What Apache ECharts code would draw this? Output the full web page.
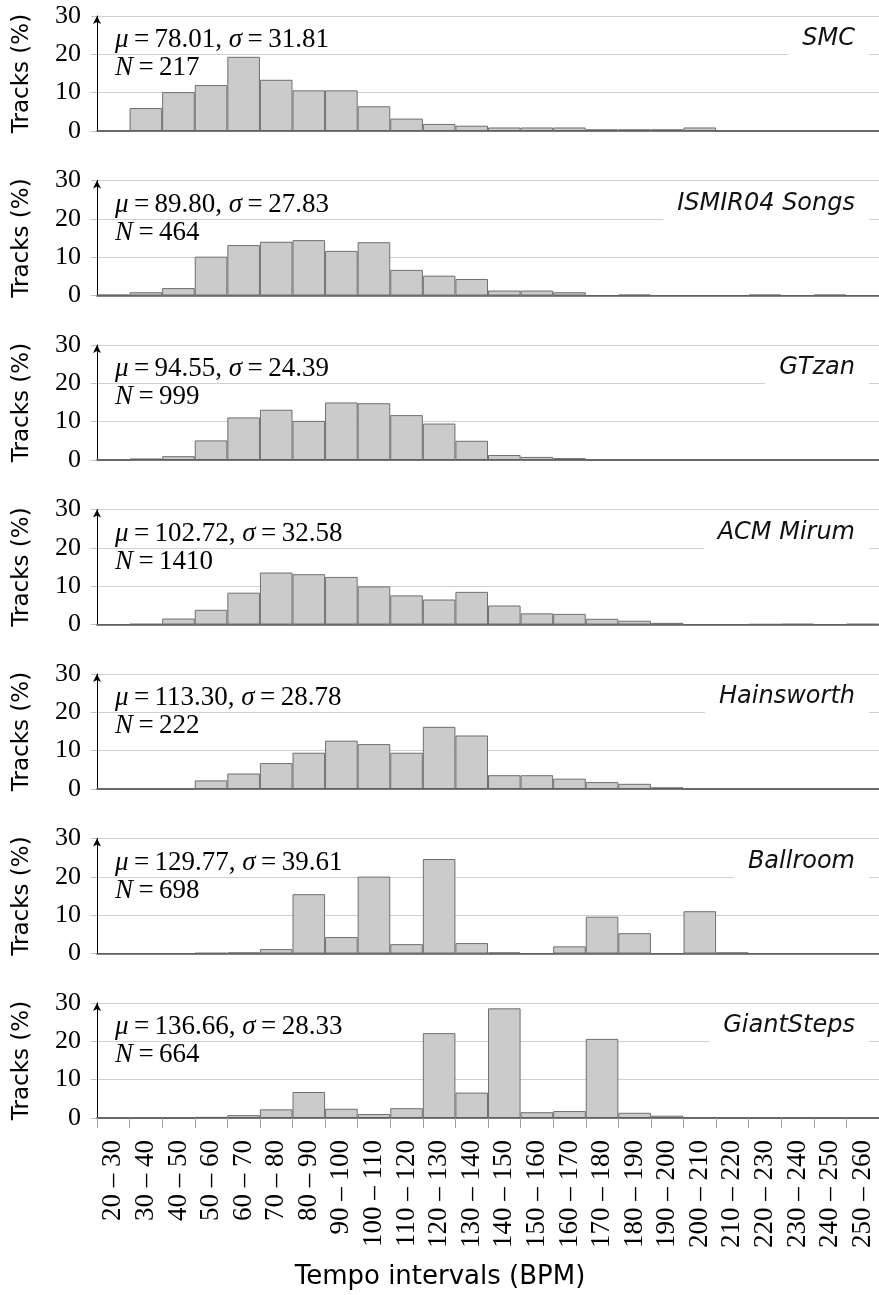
<!DOCTYPE html>
<html>
<head>
<meta charset="utf-8">
<script src="https://cdn.jsdelivr.net/npm/echarts@6/dist/echarts.min.js"></script>
<style>
  html, body { margin: 0; padding: 0; background: #ffffff; }
  #chart { width: 879px; height: 1295px; }
</style>
</head>
<body>
<div id="chart"></div>
<script>
// Tempo bins (BPM), one label per 10-BPM interval
const binLabels = [
  '20 – 30', '30 – 40', '40 – 50', '50 – 60', '60 – 70', '70 – 80',
  '80 – 90', '90 – 100', '100 – 110', '110 – 120', '120 – 130', '130 – 140',
  '140 – 150', '150 – 160', '160 – 170', '170 – 180', '180 – 190', '190 – 200',
  '200 – 210', '210 – 220', '220 – 230', '230 – 240', '240 – 250', '250 – 260'
];

// Share of tracks (%) per tempo bin, one array per dataset
const smc        = [0, 5.99, 10.14, 11.98, 19.35, 13.36, 10.60, 10.60, 6.45, 3.23, 1.84, 1.38, 0.92, 0.92, 0.92, 0.46, 0.46, 0.46, 0.92, 0, 0, 0, 0, 0];
const ismir04    = [0.22, 0.86, 1.94, 10.13, 13.15, 14.01, 14.44, 11.64, 13.90, 6.68, 5.17, 4.31, 1.29, 1.29, 0.86, 0, 0.22, 0, 0, 0, 0.22, 0, 0.22, 0];
const gtzan      = [0, 0.40, 1.00, 5.11, 11.11, 13.11, 10.21, 15.02, 14.81, 11.71, 9.51, 5.01, 1.30, 0.80, 0.50, 0, 0, 0, 0, 0, 0, 0, 0, 0];
const acmMirum   = [0, 0.14, 1.56, 3.83, 8.30, 13.55, 13.12, 12.41, 9.93, 7.59, 6.52, 8.51, 4.96, 2.91, 2.77, 1.49, 0.99, 0.43, 0, 0, 0.07, 0.14, 0, 0.14];
const hainsworth = [0, 0, 0, 2.25, 4.05, 6.76, 9.46, 12.61, 11.71, 9.46, 16.22, 13.96, 3.60, 3.60, 2.70, 1.80, 1.35, 0.45, 0, 0, 0, 0, 0, 0];
const ballroom   = [0, 0, 0, 0.14, 0.29, 1.15, 15.47, 4.30, 20.06, 2.44, 24.64, 2.72, 0.29, 0, 1.86, 9.60, 5.30, 0, 11.03, 0.29, 0, 0, 0, 0];
const giantSteps = [0, 0, 0, 0.30, 0.75, 2.26, 6.78, 2.41, 1.05, 2.56, 22.14, 6.63, 28.61, 1.51, 1.81, 20.63, 1.36, 0.60, 0.15, 0, 0, 0, 0, 0];

// Dataset names and summary statistics
const datasetNames = ['SMC', 'ISMIR04 Songs', 'GTzan', 'ACM Mirum', 'Hainsworth', 'Ballroom', 'GiantSteps'];
const meanBpm      = ['78.01', '89.80', '94.55', '102.72', '113.30', '129.77', '136.66'];
const stdBpm       = ['31.81', '27.83', '24.39', '32.58', '28.78', '39.61', '28.33'];
const trackCounts  = ['217', '464', '999', '1410', '222', '698', '664'];
const seriesValues = [smc, ismir04, gtzan, acmMirum, hainsworth, ballroom, giantSteps];

// Panel geometry
const PLOT_LEFT = 97;
const PLOT_WIDTH = 788;
const FIRST_TOP = 16;
const PANEL_STEP = 164.5;
const PANEL_HEIGHT = 115;

const SERIF = "'Liberation Serif', 'DejaVu Serif', serif";
const SANS = "'DejaVu Sans', 'Liberation Sans', sans-serif";
const THIN = '\u2009';

const panelCount = datasetNames.length;
const grids = [], xAxes = [], yAxes = [], series = [], titles = [];

for (let i = 0; i < panelCount; i++) {
  const top = FIRST_TOP + i * PANEL_STEP;
  const isLast = i === panelCount - 1;

  grids.push({ left: PLOT_LEFT, width: PLOT_WIDTH, top: top, height: PANEL_HEIGHT });

  xAxes.push({
    type: 'category',
    gridIndex: i,
    data: binLabels,
    boundaryGap: true,
    z: 3,
    axisLine: { show: true, lineStyle: { color: '#5c5c5c', width: 1.6 } },
    axisTick: { show: isLast, interval: 0, length: 10, lineStyle: { color: '#a0a0a0', width: 1 } },
    axisLabel: {
      show: isLast, interval: 0, rotate: 90, margin: 22,
      fontFamily: SERIF, fontSize: 27, color: '#000'
    },
    splitLine: { show: false }
  });

  yAxes.push({
    type: 'value',
    gridIndex: i,
    min: 0, max: 30, interval: 10,
    name: 'Tracks (%)',
    nameLocation: 'middle',
    nameRotate: 90,
    nameGap: 63,
    nameTextStyle: { fontFamily: SANS, fontSize: 23, color: '#000' },
    axisLine: {
      show: true,
      symbol: ['none', 'arrow'],
      symbolSize: [6, 8],
      lineStyle: { color: '#000', width: 1 }
    },
    axisTick: { show: true, length: 6, lineStyle: { color: '#c0c0c0' } },
    axisLabel: { fontFamily: SERIF, fontSize: 26, color: '#000', margin: 16 },
    splitLine: { show: true, lineStyle: { color: '#d0d0d0', width: 1 } }
  });

  series.push({
    type: 'bar',
    xAxisIndex: i,
    yAxisIndex: i,
    data: seriesValues[i],
    barCategoryGap: '0%',
    silent: true,
    itemStyle: { color: '#cbcbcb', borderColor: '#6f6f6f', borderWidth: 1 }
  });

  // dataset name, boxed in white over the grid lines
  titles.push({
    text: datasetNames[i],
    right: 10,
    top: top + 4,
    padding: [7, 14, 7, 14],
    backgroundColor: '#ffffff',
    textStyle: { fontFamily: SANS, fontStyle: 'italic', fontWeight: 'normal', fontSize: 24, color: '#111' }
  });

  // summary statistics
  titles.push({
    text: '{i|μ}' + THIN + '=' + THIN + meanBpm[i] + ', {i|σ}' + THIN + '=' + THIN + stdBpm[i] +
          '\n{i|N}' + THIN + '=' + THIN + trackCounts[i],
    left: 115,
    top: top + 10,
    padding: 0,
    textStyle: {
      fontFamily: SERIF, fontWeight: 'normal', fontSize: 27, lineHeight: 28, color: '#000',
      rich: { i: { fontFamily: SERIF, fontStyle: 'italic', fontSize: 27, lineHeight: 28, color: '#000' } }
    }
  });
}

const chart = echarts.init(document.getElementById('chart'), null, { renderer: 'canvas' });
chart.setOption({
  animation: false,
  backgroundColor: '#ffffff',
  title: titles,
  grid: grids,
  xAxis: xAxes,
  yAxis: yAxes,
  series: series,
  graphic: [{
    type: 'text',
    x: 440,
    y: 1277,
    style: {
      text: 'Tempo intervals (BPM)',
      font: "26px 'DejaVu Sans', sans-serif",
      fill: '#000',
      align: 'center',
      verticalAlign: 'middle'
    }
  }]
});
</script>
</body>
</html>
